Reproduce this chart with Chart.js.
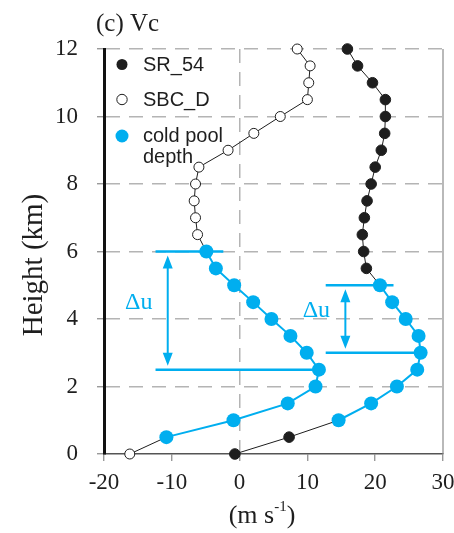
<!DOCTYPE html>
<html>
<head>
<meta charset="utf-8">
<script src="https://cdn.jsdelivr.net/npm/chart.js@4.4.1/dist/chart.umd.min.js"></script>
<style>
  html, body { margin: 0; padding: 0; background: #fff; overflow: hidden; }
  canvas { display: block; }
</style>
</head>
<body>
<canvas id="vc" width="454" height="533"></canvas>
<script>
// Height levels (km) shared by both profiles
const heights = [0, 0.5, 1, 1.5, 2, 2.5, 3, 3.5, 4, 4.5, 5, 5.5, 6,
                 6.5, 7, 7.5, 8, 8.5, 9, 9.5, 10, 10.5, 11, 11.5, 12];
// Vc profiles (m s-1)
const sr54 = [-0.7, 7.3, 14.6, 19.4, 23.2, 26.2, 26.7, 26.4, 24.5, 22.5, 20.7, 18.7, 18.3,
              18.1, 18.4, 18.8, 19.4, 20.0, 20.9, 21.4, 21.5, 21.5, 19.6, 17.4, 15.9];
const sbcD = [-16.2, -10.8, -0.9, 7.1, 11.2, 11.7, 9.9, 7.5, 4.7, 2.0, -0.8, -3.5, -4.9,
              -6.2, -6.5, -6.7, -6.5, -6.0, -1.7, 2.1, 6.0, 10.0, 10.2, 10.4, 8.5];
const seriesNames = ['SR_54', 'SBC_D'];
const coldPoolLabel = ['cold pool', 'depth'];
// Cold pool layer of each profile: [bottom, top] (km)
const sr54ColdPool = [1.0, 5.0];
const sbcDColdPool = [0.5, 6.0];
// Delta-u brackets: [top, bottom] heights (km)
const sr54DeltaU = [5.0, 3.0];
const sbcDDeltaU = [6.0, 2.5];
const xTicks = [-20, -10, 0, 10, 20, 30];
const yTicks = [0, 2, 4, 6, 8, 10, 12];

const BLUE = '#00aeef';
const INK = '#1e1e1e';
const GRID = '#b4b4b4';
const SERIF = '"Liberation Serif", "Times New Roman", serif';
const SANS = '"Liberation Sans", Arial, sans-serif';

function inPool(h, pool) { return h >= pool[0] && h <= pool[1]; }

function profile(name, values, pool, filled) {
  const pts = heights.map((h, i) => ({ x: values[i], y: h }));
  return {
    label: name,
    data: pts,
    showLine: true,
    clip: false,
    pointRadius: heights.map(h => inPool(h, pool) ? 7 : (filled ? 5.3 : 5)),
    pointBackgroundColor: heights.map(h => inPool(h, pool) ? BLUE : (filled ? INK : '#ffffff')),
    pointBorderColor: heights.map(h => inPool(h, pool) ? BLUE : INK),
    pointBorderWidth: heights.map(h => inPool(h, pool) ? 0 : 1),
    borderColor: INK,
    borderWidth: 1,
    segment: {
      borderColor: c => (inPool(heights[c.p0DataIndex], pool) && inPool(heights[c.p1DataIndex], pool)) ? BLUE : INK,
      borderWidth: c => (inPool(heights[c.p0DataIndex], pool) && inPool(heights[c.p1DataIndex], pool)) ? 2 : 1
    }
  };
}

// Delta-u brackets with double-headed arrows
const bracketPlugin = {
  id: 'deltaU',
  beforeDatasetsDraw(chart) {
    const { ctx, scales: { x, y } } = chart;
    const items = [
      { values: sbcD, span: sbcDDeltaU, from: -12.4, topTo: -2.4, arrowAt: -10.6 },
      { values: sr54, span: sr54DeltaU, from: 12.7, topTo: 22.7, arrowAt: 15.6 }
    ];
    ctx.save();
    ctx.strokeStyle = BLUE;
    ctx.fillStyle = BLUE;
    items.forEach(b => {
      const yTop = y.getPixelForValue(b.span[0]);
      const yBot = y.getPixelForValue(b.span[1]);
      const bottomValue = b.values[heights.indexOf(b.span[1])];
      ctx.lineWidth = 2.5;
      ctx.beginPath();
      ctx.moveTo(x.getPixelForValue(b.from), yTop);
      ctx.lineTo(x.getPixelForValue(b.topTo), yTop);
      ctx.moveTo(x.getPixelForValue(b.from), yBot);
      ctx.lineTo(x.getPixelForValue(bottomValue), yBot);
      ctx.stroke();
      // arrow
      const ax = x.getPixelForValue(b.arrowAt);
      const t = yTop + 4, bt = yBot - 4, hl = 13, hw = 5;
      ctx.lineWidth = 2;
      ctx.beginPath();
      ctx.moveTo(ax, t + hl - 2);
      ctx.lineTo(ax, bt - hl + 2);
      ctx.stroke();
      ctx.beginPath();
      ctx.moveTo(ax, t); ctx.lineTo(ax - hw, t + hl); ctx.lineTo(ax + hw, t + hl); ctx.closePath();
      ctx.moveTo(ax, bt); ctx.lineTo(ax - hw, bt - hl); ctx.lineTo(ax + hw, bt - hl); ctx.closePath();
      ctx.fill();
      // label
      ctx.font = '24px ' + SERIF;
      ctx.textAlign = 'center';
      ctx.textBaseline = 'middle';
      ctx.fillText('\u0394u', ax - 29, (t + bt) / 2 - 8);
    });
    ctx.restore();
  }
};

// Panel title, axis titles, frame edge and in-plot legend
const decorPlugin = {
  id: 'decor',
  afterDatasetsDraw(chart) {
    const { ctx, chartArea: a } = chart;
    ctx.save();
    // right frame edge
    ctx.strokeStyle = '#8a8a8a';
    ctx.lineWidth = 1.2;
    ctx.beginPath();
    ctx.moveTo(a.right, a.top);
    ctx.lineTo(a.right, a.bottom);
    ctx.stroke();
    // panel title
    ctx.fillStyle = INK;
    ctx.font = '25px ' + SERIF;
    ctx.textAlign = 'left';
    ctx.textBaseline = 'middle';
    ctx.fillText('(c) Vc', 96, 24);
    // y axis title
    ctx.save();
    ctx.translate(34, 265);
    ctx.rotate(-Math.PI / 2);
    ctx.font = '29px ' + SERIF;
    ctx.textAlign = 'center';
    ctx.fillText('Height (km)', 0, 0);
    ctx.restore();
    // x axis title with superscript unit exponent
    const main = '26px ' + SERIF, sup = '15px ' + SERIF;
    ctx.font = main;
    const w1 = ctx.measureText('(m s').width, w3 = ctx.measureText(')').width;
    ctx.font = sup;
    const w2 = ctx.measureText('-1').width;
    let px = 262 - (w1 + w2 + w3) / 2;
    const py = 516;
    ctx.textAlign = 'left';
    ctx.font = main; ctx.fillText('(m s', px, py); px += w1;
    ctx.font = sup; ctx.fillText('-1', px, py - 9); px += w2;
    ctx.font = main; ctx.fillText(')', px, py);
    // legend
    const lx = a.left + 18, tx = a.left + 39;
    const rows = [a.top + 15.5, a.top + 50.5, a.top + 87];
    ctx.lineWidth = 1;
    ctx.fillStyle = INK;
    ctx.beginPath(); ctx.arc(lx, rows[0], 5.5, 0, Math.PI * 2); ctx.fill();
    ctx.fillStyle = '#fff'; ctx.strokeStyle = INK;
    ctx.beginPath(); ctx.arc(lx, rows[1], 5.2, 0, Math.PI * 2); ctx.fill(); ctx.stroke();
    ctx.fillStyle = BLUE;
    ctx.beginPath(); ctx.arc(lx, rows[2], 6.5, 0, Math.PI * 2); ctx.fill();
    ctx.fillStyle = INK;
    ctx.font = '20px ' + SANS;
    ctx.fillText(seriesNames[0], tx, rows[0] + 1);
    ctx.fillText(seriesNames[1], tx, rows[1] + 1);
    ctx.fillText(coldPoolLabel[0], tx, rows[2]);
    ctx.fillText(coldPoolLabel[1], tx, rows[2] + 21);
    ctx.restore();
  }
};

new Chart(document.getElementById('vc'), {
  type: 'scatter',
  data: {
    datasets: [
      profile(seriesNames[0], sr54, sr54ColdPool, true),
      profile(seriesNames[1], sbcD, sbcDColdPool, false)
    ]
  },
  options: {
    responsive: false,
    animation: false,
    devicePixelRatio: 1,
    layout: { padding: { top: 49, right: 11, left: 0, bottom: 0 } },
    plugins: { legend: { display: false }, tooltip: { enabled: false }, title: { display: false } },
    scales: {
      x: {
        type: 'linear', min: -20, max: 30,
        afterBuildTicks: s => { s.ticks = xTicks.map(v => ({ value: v })); },
        afterFit: s => { s.height = 79; s.paddingLeft = 0; s.paddingRight = 0; },
        border: { display: true, color: '#555', width: 1.5, dash: [14, 9] },
        grid: {
          color: c => (c.tick && c.tick.value === 0) ? GRID : 'rgba(0,0,0,0)',
          lineWidth: 1.5,
          drawTicks: true, tickLength: 7, tickColor: '#888', tickWidth: 1.2
        },
        ticks: { color: INK, padding: 8, font: { family: SERIF, size: 23 }, maxRotation: 0 }
      },
      y: {
        type: 'linear', min: 0, max: 12,
        afterBuildTicks: s => { s.ticks = yTicks.map(v => ({ value: v })); },
        afterFit: s => { s.width = 104; s.paddingTop = 0; s.paddingBottom = 0; },
        border: { display: true, color: '#111', width: 3, dash: [14, 9] },
        grid: {
          color: c => (c.tick && c.tick.value > 0) ? GRID : 'rgba(0,0,0,0)',
          lineWidth: 1.5,
          drawTicks: true, tickLength: 7, tickColor: '#888', tickWidth: 1.2
        },
        ticks: { color: INK, padding: 19, font: { family: SERIF, size: 23 } }
      }
    }
  },
  plugins: [bracketPlugin, decorPlugin]
});
</script>
</body>
</html>
